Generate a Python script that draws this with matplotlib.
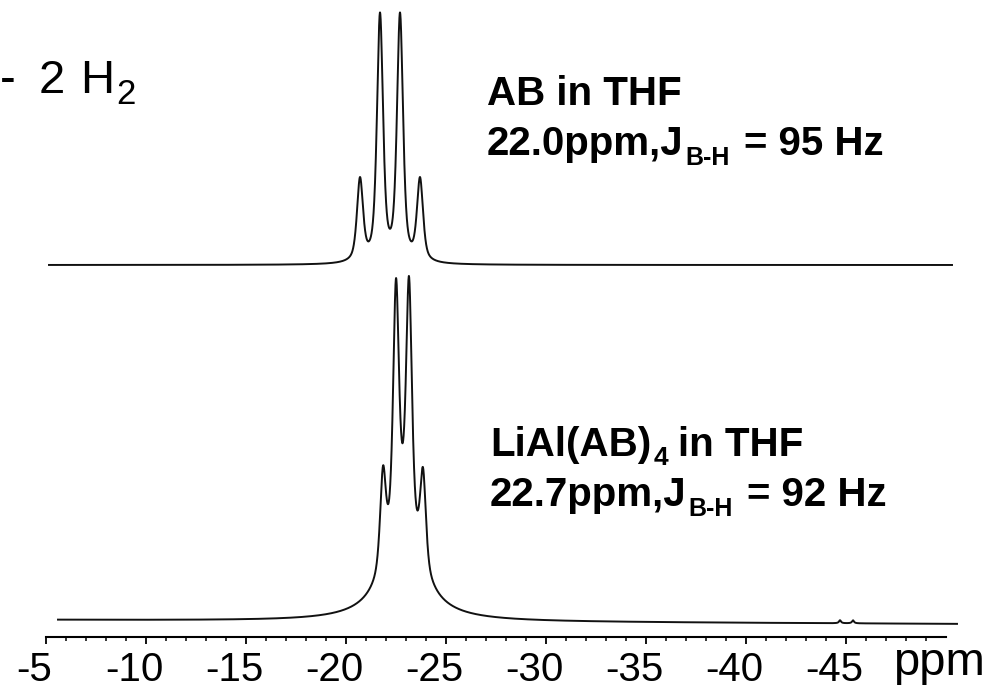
import numpy as np
import matplotlib
matplotlib.use("Agg")
import matplotlib.pyplot as plt
from matplotlib.transforms import ScaledTranslation, IdentityTransform

# ---- axis ticks (ppm) ----
major_ticks = [-5, -10, -15, -20, -25, -30, -35, -40, -45]
tick_labels = ["-5", "-10", "-15", "-20", "-25", "-30", "-35", "-40", "-45"]
minor_ticks = [v for v in range(-6, -50, -1) if v % 5 != 0]

# ---- AB in THF: 11B quartet (position ppm, height, half-width ppm) ----
ab_pos = [-20.7, -21.7, -22.7, -23.7]
ab_height = [82, 246, 246, 82]
ab_width = [0.18, 0.18, 0.18, 0.18]
ab_lorentz_frac = 0.6
ab_range = [-5.15, -50.3]

# ---- LiAl(AB)4 in THF: quartet on top of a broad component ----
li_pos = [-21.85, -22.5, -23.15, -23.85]
li_height = [95, 243, 243, 95]
li_width = [0.17, 0.17, 0.17, 0.17]
li_lorentz_frac = 0.6
li_broad_pos = [-22.85]
li_broad_height = [97]
li_broad_width = [1.0]
li_small_pos = [-44.7, -45.35]
li_small_height = [3, 3]
li_small_width = [0.06, 0.06]
li_drift = [0.0, -4.0]          # baseline drift, low-field end to high-field end
li_range = [-5.6, -50.55]

W, H = 993, 689
fig = plt.figure(figsize=(W / 100, H / 100), dpi=100)
ax = fig.add_axes([0, 0, 1, 1])
ax.set_xlim(-2.7, -52.35)
ax.set_ylim(0, H)
ax.patch.set_visible(False)


def lorentz(x, pos, height, width):
    y = np.zeros_like(x)
    for p, h, w in zip(pos, height, width):
        y += h / (1.0 + ((x - p) / w) ** 2)
    return y


def pseudo_voigt(x, pos, height, width, eta):
    y = np.zeros_like(x)
    for p, h, w in zip(pos, height, width):
        d = (x - p) / w
        y += h * (eta / (1.0 + d ** 2) + (1 - eta) * np.exp(-np.log(2) * d ** 2))
    return y


# upper trace
x_ab = np.linspace(ab_range[0], ab_range[1], 8000)
y_ab = pseudo_voigt(x_ab, ab_pos, ab_height, ab_width, ab_lorentz_frac)
ax.plot(x_ab, 424 + y_ab, color="#111111", lw=1.4, solid_joinstyle="round")

# lower trace
x_li = np.linspace(li_range[0], li_range[1], 8000)
frac = (x_li - li_range[0]) / (li_range[1] - li_range[0])
y_li = (pseudo_voigt(x_li, li_pos, li_height, li_width, li_lorentz_frac)
        + lorentz(x_li, li_broad_pos, li_broad_height, li_broad_width)
        + lorentz(x_li, li_small_pos, li_small_height, li_small_width)
        + li_drift[0] + (li_drift[1] - li_drift[0]) * frac)
ax.plot(x_li, 69 + y_li, color="#111111", lw=1.4, solid_joinstyle="round")

# ppm axis
for side in ["top", "left", "right"]:
    ax.spines[side].set_visible(False)
ax.spines["bottom"].set_position(("data", 52))
ax.spines["bottom"].set_bounds(-5, -50)
ax.spines["bottom"].set_linewidth(1.5)
ax.set_yticks([])
ax.set_xticks(major_ticks)
ax.set_xticks(minor_ticks, minor=True)
ax.set_xticklabels(tick_labels, fontsize=29, family="Liberation Sans")
ax.tick_params(axis="x", which="major", direction="out", length=5, width=1.3, pad=5)
ax.tick_params(axis="x", which="minor", direction="out", length=3, width=1.1)
shift = ScaledTranslation(-12 / 100, 0, fig.dpi_scale_trans)
for lab in ax.get_xticklabels():
    lab.set_transform(lab.get_transform() + shift)

ident = IdentityTransform()
fig.text(893, H - 675, "ppm", transform=ident, fontsize=34,
         family="Liberation Sans", ha="left", va="baseline")

renderer = fig.canvas.get_renderer()


def rich_text(x_px, y_px, pieces, weight="bold"):
    """Draw consecutive text pieces: (text, size, baseline drop px, gap px)."""
    x = x_px
    for s, size, dy, gap in pieces:
        x += gap
        t = fig.text(x, H - (y_px + dy), s, transform=ident, fontsize=size,
                     weight=weight, family="Liberation Sans",
                     ha="left", va="baseline")
        x += t.get_window_extent(renderer).width


rich_text(0, 93, [("-", 34, 0, 0), ("2", 34, 0, 23), ("H", 34, 0, 15),
                  ("2", 25, 11, 2)], weight="normal")

rich_text(487, 105, [("AB in THF", 29, 0, 0)])
rich_text(487, 155, [("22.0ppm,J", 29, 0, 0), ("B-H", 18, 10, 2),
                     ("= 95 Hz", 29, 0, 14)])
rich_text(490, 456, [("LiAl(AB)", 29, 0, 0), ("4", 19, 9, 2),
                     ("in THF", 29, 0, 10)])
rich_text(490, 506, [("22.7ppm,J", 29, 0, 0), ("B-H", 18, 10, 2),
                     ("= 92 Hz", 29, 0, 14)])

fig.savefig("out.png", dpi=100)
